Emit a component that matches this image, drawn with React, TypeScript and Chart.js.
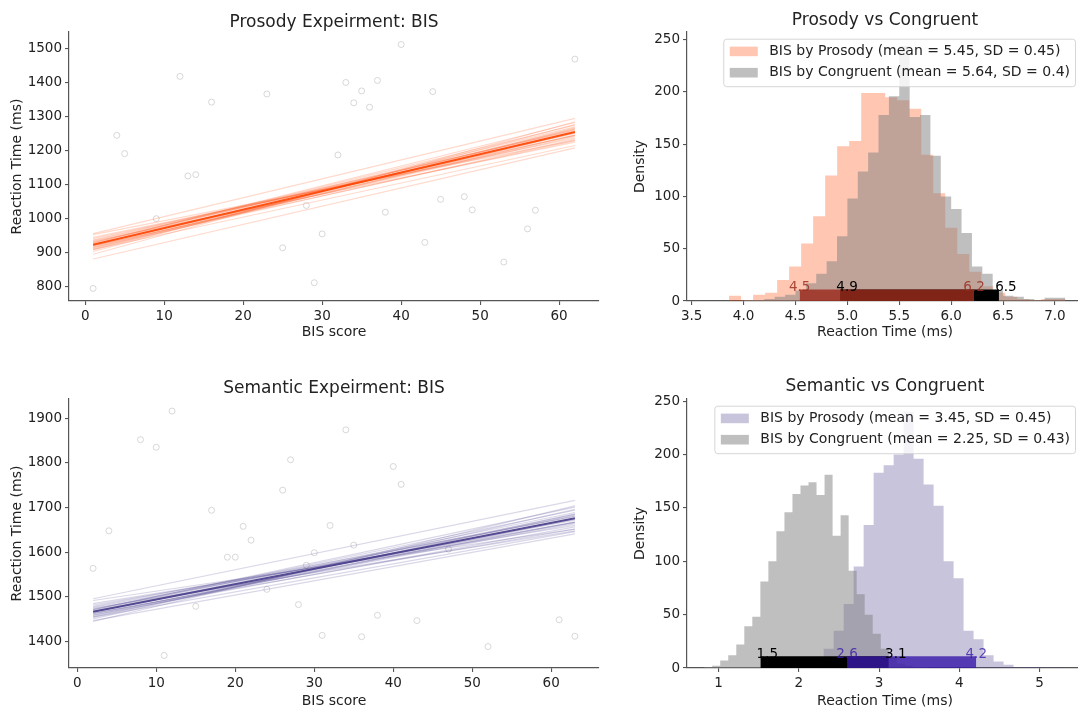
import React, { useEffect, useRef } from "react";
import { Chart, registerables } from "chart.js";

Chart.register(...registerables);

const FONT = "'DejaVu Sans', 'Liberation Sans', sans-serif";
const TEXT = "#222222";
const AXIS = "#555555";

// ---------------- Prosody experiment: BIS score vs reaction time ----------------
const PROS_BIS = [1, 4, 5, 9, 12, 13, 14, 16, 23, 25, 28, 29, 30, 32, 33, 34, 35, 36, 37, 38, 40, 43, 44, 45, 48, 49, 53, 56, 57, 62];
const PROS_RT = [793, 1245, 1191, 999, 1419, 1125, 1129, 1343, 1367, 913, 1038, 810, 954, 1187, 1401, 1341, 1376, 1328, 1407, 1018, 1513, 929, 1374, 1056, 1064, 1025, 871, 969, 1024, 1470];
const PROS_FIT_X = [1, 62];
const PROS_FIT_MEAN = [922, 1255];
const PROS_DRAW_START = [922, 930, 916, 934, 912, 925, 918, 940, 907, 922, 922, 928, 914, 936, 910, 944, 902, 952, 894, 932, 908, 880, 955, 927, 919];
const PROS_DRAW_END = [1255, 1261, 1246, 1251, 1263, 1270, 1241, 1245, 1267, 1265, 1245, 1275, 1233, 1259, 1253, 1237, 1277, 1230, 1285, 1225, 1215, 1208, 1295, 1283, 1229];
const PROS_X_TICKS = [0, 10, 20, 30, 40, 50, 60];
const PROS_Y_TICKS = [800, 900, 1000, 1100, 1200, 1300, 1400, 1500];

// ---------------- Semantic experiment: BIS score vs reaction time ----------------
const SEM_BIS = [2, 4, 8, 10, 11, 12, 15, 17, 19, 20, 21, 22, 24, 26, 27, 28, 29, 30, 31, 32, 34, 35, 36, 38, 40, 41, 43, 47, 52, 61, 63];
const SEM_RT = [1564, 1648, 1852, 1835, 1369, 1916, 1479, 1694, 1589, 1589, 1658, 1627, 1517, 1739, 1807, 1483, 1571, 1599, 1414, 1660, 1874, 1616, 1411, 1459, 1792, 1752, 1447, 1607, 1389, 1449, 1412];
const SEM_FIT_X = [2, 63];
const SEM_FIT_MEAN = [1467, 1676];
const SEM_DRAW_START = [1467, 1473, 1462, 1477, 1459, 1470, 1463, 1482, 1455, 1467, 1467, 1472, 1460, 1479, 1457, 1485, 1451, 1492, 1445, 1475, 1455, 1447, 1496, 1471, 1464];
const SEM_DRAW_END = [1676, 1681, 1668, 1672, 1683, 1689, 1664, 1667, 1686, 1685, 1667, 1694, 1657, 1680, 1674, 1660, 1696, 1652, 1704, 1648, 1646, 1641, 1716, 1701, 1652];
const SEM_X_TICKS = [0, 10, 20, 30, 40, 50, 60];
const SEM_Y_TICKS = [1400, 1500, 1600, 1700, 1800, 1900];

// ---------------- Prosody vs Congruent (histograms) ----------------
const PVC_PROS_START = 3.629;
const PVC_PROS_WIDTH = 0.1157;
const PVC_PROS_COUNTS = [1, 0, 0, 5, 1, 6, 8, 20, 33, 55, 81, 120, 148, 153, 199, 199, 195, 192, 184, 140, 103, 70, 45, 28, 14, 8, 4, 2, 1, 2];
const PVC_CONG_START = 4.0;
const PVC_CONG_WIDTH = 0.1;
const PVC_CONG_COUNTS = [0, 1, 1, 2, 4, 6, 10, 17, 26, 38, 62, 98, 124, 142, 178, 196, 244, 176, 178, 139, 100, 88, 65, 33, 26, 10, 5, 4, 2, 1, 3];
const PVC_PROS_HDI = [4.54, 6.22];
const PVC_CONG_HDI = [4.93, 6.46];
const PVC_LEGEND = ["BIS by Prosody (mean = 5.45, SD = 0.45)", "BIS by Congruent (mean = 5.64, SD = 0.4)"];
const PVC_X_TICKS = [3.5, 4.0, 4.5, 5.0, 5.5, 6.0, 6.5, 7.0];

// ---------------- Semantic vs Congruent (histograms) ----------------
const SVC_SEM_START = 1.562;
const SVC_SEM_WIDTH = 0.1245;
const SVC_SEM_COUNTS = [0, 0, 0, 0.5, 1, 3, 8, 18, 35, 60, 95, 134, 183, 190, 200, 240, 196, 172, 152, 100, 84, 35, 27, 12, 6, 3, 1, 1, 1, 0.5];
const SVC_CONG_START = 0.82;
const SVC_CONG_WIDTH = 0.1;
const SVC_CONG_COUNTS = [0.5, 1, 2, 7, 12, 22, 39, 48, 81, 100, 128, 146, 163, 171, 174, 162, 181, 124, 143, 91, 69, 50, 32, 18, 10, 4, 2, 1];
const SVC_SEM_HDI = [2.6, 4.21];
const SVC_CONG_HDI = [1.52, 3.12];
const SVC_LEGEND = ["BIS by Prosody (mean = 3.45, SD = 0.45)", "BIS by Congruent (mean = 2.25, SD = 0.43)"];
const SVC_X_TICKS = [1, 2, 3, 4, 5];

const DENSITY_TICKS = [0, 50, 100, 150, 200, 250];

// ---------------- styles ----------------
const ORANGE = "255,69,0";
const PURPLE = "72,61,139";
const GREY_FILL = "rgba(128,128,128,0.5)";
const HDI_RED = "rgba(154,43,29,0.83)";
const HDI_PURPLE = "rgba(56,25,169,0.8)";
const HDI_BLACK = "#000000";
const HDI_BAR_H = 11;

function histPoints(start: number, width: number, counts: number[]) {
  const pts: { x: number; y: number }[] = [{ x: start, y: 0 }];
  counts.forEach((c, i) => pts.push({ x: start + i * width, y: c }));
  const end = start + counts.length * width;
  pts.push({ x: end, y: counts[counts.length - 1] });
  pts.push({ x: end, y: 0 });
  return pts;
}

function histDataset(pts: any[], color: string, order: number) {
  return {
    type: "line",
    data: pts,
    stepped: "after",
    fill: "origin",
    backgroundColor: color,
    borderColor: "rgba(0,0,0,0)",
    borderWidth: 0,
    pointRadius: 0,
    order,
  };
}

function barDataset(range: number[], color: string, order: number) {
  return {
    type: "line",
    data: [
      { x: range[0], y: HDI_BAR_H },
      { x: range[1], y: HDI_BAR_H },
    ],
    fill: "origin",
    backgroundColor: color,
    borderColor: "rgba(0,0,0,0)",
    borderWidth: 0,
    pointRadius: 0,
    order,
  };
}

function axis(opts: {
  min: number;
  max: number;
  ticks: number[];
  fmt: (v: number) => string;
  title: string;
  isX: boolean;
  size: number;
  titlePad: number;
}) {
  return {
    type: "linear",
    position: opts.isX ? "bottom" : "left",
    min: opts.min,
    max: opts.max,
    afterBuildTicks: (s: any) => {
      s.ticks = opts.ticks.map((v) => ({ value: v }));
    },
    afterFit: (s: any) => {
      if (opts.isX) s.height = opts.size;
      else s.width = opts.size;
    },
    grid: {
      display: true,
      drawOnChartArea: false,
      drawTicks: true,
      tickLength: 4,
      color: AXIS,
      tickColor: AXIS,
      lineWidth: 1.1,
      tickWidth: 1.1,
    },
    border: { display: true, color: AXIS, width: 1.2 },
    ticks: {
      color: TEXT,
      font: { family: FONT, size: 13.5 },
      padding: 3,
      autoSkip: false,
      maxRotation: 0,
      callback: (v: any) => opts.fmt(Number(v)),
    },
    title: {
      display: true,
      text: opts.title,
      color: TEXT,
      font: { family: FONT, size: 14 },
      padding: opts.isX ? { top: 0, bottom: opts.titlePad } : { top: opts.titlePad, bottom: 0 },
    },
  };
}

function titlePlugin(text: string, baseline: number) {
  return {
    id: "panelTitle",
    afterDraw(chart: any) {
      const { ctx, chartArea } = chart;
      ctx.save();
      ctx.font = `17px ${FONT}`;
      ctx.fillStyle = TEXT;
      ctx.textAlign = "center";
      ctx.textBaseline = "alphabetic";
      ctx.fillText(text, (chartArea.left + chartArea.right) / 2, baseline);
      ctx.restore();
    },
  };
}

function legendPlugin(items: { label: string; color: string }[]) {
  return {
    id: "histLegend",
    afterDatasetsDraw(chart: any) {
      const { ctx, chartArea } = chart;
      ctx.save();
      ctx.font = `14px ${FONT}`;
      const textW = Math.max(...items.map((it) => ctx.measureText(it.label).width));
      const right = chartArea.right - 7.5;
      const width = 6 + 28 + 11.5 + textW + 5.5;
      const left = right - width;
      const top = chartArea.top + 7.2;
      const height = 47.5;
      const r = 3;
      ctx.beginPath();
      ctx.moveTo(left + r, top);
      ctx.lineTo(right - r, top);
      ctx.quadraticCurveTo(right, top, right, top + r);
      ctx.lineTo(right, top + height - r);
      ctx.quadraticCurveTo(right, top + height, right - r, top + height);
      ctx.lineTo(left + r, top + height);
      ctx.quadraticCurveTo(left, top + height, left, top + height - r);
      ctx.lineTo(left, top + r);
      ctx.quadraticCurveTo(left, top, left + r, top);
      ctx.closePath();
      ctx.fillStyle = "rgba(255,255,255,0.8)";
      ctx.fill();
      ctx.strokeStyle = "rgba(204,204,204,0.8)";
      ctx.lineWidth = 1;
      ctx.stroke();
      items.forEach((it, i) => {
        const cy = top + 12.2 + i * 21.3;
        ctx.fillStyle = it.color;
        ctx.fillRect(left + 6, cy - 4.8, 28, 9.6);
        ctx.fillStyle = TEXT;
        ctx.textBaseline = "middle";
        ctx.textAlign = "left";
        ctx.fillText(it.label, left + 6 + 28 + 11.5, cy);
      });
      ctx.restore();
    },
  };
}

function hdiLabelPlugin(labels: { value: number; color: string; dx: number }[]) {
  return {
    id: "hdiLabels",
    afterDatasetsDraw(chart: any) {
      const { ctx } = chart;
      const xs = chart.scales.x;
      const ys = chart.scales.y;
      ctx.save();
      ctx.font = `13.5px ${FONT}`;
      ctx.textAlign = "center";
      ctx.textBaseline = "alphabetic";
      labels.forEach((l) => {
        ctx.fillStyle = l.color;
        ctx.fillText(l.value.toFixed(1), xs.getPixelForValue(l.value) + l.dx, ys.getPixelForValue(0) - 10);
      });
      ctx.restore();
    },
  };
}

function regressionConfig(p: {
  bis: number[];
  rt: number[];
  fitX: number[];
  mean: number[];
  starts: number[];
  ends: number[];
  rgb: string;
  xMin: number;
  xMax: number;
  yMin: number;
  yMax: number;
  xTicks: number[];
  yTicks: number[];
  title: string;
  titleBaseline: number;
  padTop: number;
  xAxisH: number;
}) {
  const datasets: any[] = [];
  datasets.push({
    type: "line",
    data: p.bis.map((x, i) => ({ x, y: p.rt[i] })),
    showLine: false,
    pointRadius: 3,
    pointBorderWidth: 1,
    pointBorderColor: "rgba(190,190,190,0.6)",
    pointBackgroundColor: "rgba(0,0,0,0)",
    order: 100,
  });
  p.starts.forEach((s, i) => {
    datasets.push({
      type: "line",
      data: [
        { x: p.fitX[0], y: s },
        { x: p.fitX[1], y: p.ends[i] },
      ],
      borderColor: `rgba(${p.rgb},0.2)`,
      borderWidth: 1.2,
      pointRadius: 0,
      fill: false,
      order: 50,
    });
  });
  datasets.push({
    type: "line",
    data: [
      { x: p.fitX[0], y: p.mean[0] },
      { x: p.fitX[1], y: p.mean[1] },
    ],
    borderColor: `rgba(${p.rgb},0.9)`,
    borderWidth: 2,
    pointRadius: 0,
    fill: false,
    order: 0,
  });
  return {
    type: "line",
    data: { datasets },
    options: {
      responsive: false,
      animation: false,
      devicePixelRatio: 1,
      layout: { padding: { top: p.padTop, right: 3, left: 0, bottom: 0 } },
      plugins: { legend: { display: false }, tooltip: { enabled: false } },
      scales: {
        x: axis({ min: p.xMin, max: p.xMax, ticks: p.xTicks, fmt: (v) => String(v), title: "BIS score", isX: true, size: p.xAxisH, titlePad: 0 }),
        y: axis({ min: p.yMin, max: p.yMax, ticks: p.yTicks, fmt: (v) => String(v), title: "Reaction Time (ms)", isX: false, size: 69, titlePad: 8.6 }),
      },
    },
    plugins: [titlePlugin(p.title, p.titleBaseline)],
  };
}

function histConfig(p: {
  mainPts: any[];
  congPts: any[];
  mainFill: string;
  mainHdi: number[];
  congHdi: number[];
  mainHdiColor: string;
  xMin: number;
  xMax: number;
  yMax: number;
  xTicks: number[];
  xFmt: (v: number) => string;
  legend: string[];
  title: string;
  titleBaseline: number;
  padTop: number;
  xAxisH: number;
}) {
  const datasets: any[] = [
    histDataset(p.mainPts, p.mainFill, 40),
    histDataset(p.congPts, GREY_FILL, 30),
    barDataset(p.congHdi, HDI_BLACK, 20),
    barDataset(p.mainHdi, p.mainHdiColor, 10),
  ];
  return {
    type: "line",
    data: { datasets },
    options: {
      responsive: false,
      animation: false,
      devicePixelRatio: 1,
      layout: { padding: { top: p.padTop, right: 3, left: 0, bottom: 0 } },
      plugins: { legend: { display: false }, tooltip: { enabled: false } },
      scales: {
        x: axis({ min: p.xMin, max: p.xMax, ticks: p.xTicks, fmt: p.xFmt, title: "Reaction Time (ms)", isX: true, size: p.xAxisH, titlePad: 0 }),
        y: axis({ min: 0, max: p.yMax, ticks: DENSITY_TICKS, fmt: (v) => String(v), title: "Density", isX: false, size: 77, titlePad: 22.4 }),
      },
    },
    plugins: [
      titlePlugin(p.title, p.titleBaseline),
      legendPlugin([
        { label: p.legend[0], color: p.mainFill },
        { label: p.legend[1], color: GREY_FILL },
      ]),
      hdiLabelPlugin([
        { value: p.mainHdi[0], color: p.mainHdiColor, dx: 0 },
        { value: p.mainHdi[1], color: p.mainHdiColor, dx: 0 },
        { value: p.congHdi[0], color: HDI_BLACK, dx: 7 },
        { value: p.congHdi[1], color: HDI_BLACK, dx: 7 },
      ]),
    ],
  };
}

const PANELS = [
  {
    left: 0,
    top: 0,
    width: 604,
    height: 341,
    make: () =>
      regressionConfig({
        bis: PROS_BIS,
        rt: PROS_RT,
        fitX: PROS_FIT_X,
        mean: PROS_FIT_MEAN,
        starts: PROS_DRAW_START,
        ends: PROS_DRAW_END,
        rgb: ORANGE,
        xMin: -2.05,
        xMax: 65.05,
        yMin: 756,
        yMax: 1550,
        xTicks: PROS_X_TICKS,
        yTicks: PROS_Y_TICKS,
        title: "Prosody Expeirment: BIS",
        titleBaseline: 27,
        padTop: 32,
        xAxisH: 40,
      }),
  },
  {
    left: 610,
    top: 0,
    width: 476,
    height: 341,
    make: () =>
      histConfig({
        mainPts: histPoints(PVC_PROS_START, PVC_PROS_WIDTH, PVC_PROS_COUNTS),
        congPts: histPoints(PVC_CONG_START, PVC_CONG_WIDTH, PVC_CONG_COUNTS),
        mainFill: `rgba(${ORANGE},0.3)`,
        mainHdi: PVC_PROS_HDI,
        congHdi: PVC_CONG_HDI,
        mainHdiColor: HDI_RED,
        xMin: 3.455,
        xMax: 7.27,
        yMax: 257.4,
        xTicks: PVC_X_TICKS,
        xFmt: (v) => v.toFixed(1),
        legend: PVC_LEGEND,
        title: "Prosody vs Congruent",
        titleBaseline: 24.5,
        padTop: 32,
        xAxisH: 40,
      }),
  },
  {
    left: 0,
    top: 360,
    width: 604,
    height: 350,
    make: () =>
      regressionConfig({
        bis: SEM_BIS,
        rt: SEM_RT,
        fitX: SEM_FIT_X,
        mean: SEM_FIT_MEAN,
        starts: SEM_DRAW_START,
        ends: SEM_DRAW_END,
        rgb: PURPLE,
        xMin: -1.05,
        xMax: 66.05,
        yMin: 1341,
        yMax: 1943,
        xTicks: SEM_X_TICKS,
        yTicks: SEM_Y_TICKS,
        title: "Semantic Expeirment: BIS",
        titleBaseline: 33,
        padTop: 39,
        xAxisH: 42,
      }),
  },
  {
    left: 610,
    top: 360,
    width: 476,
    height: 350,
    make: () =>
      histConfig({
        mainPts: histPoints(SVC_SEM_START, SVC_SEM_WIDTH, SVC_SEM_COUNTS),
        congPts: histPoints(SVC_CONG_START, SVC_CONG_WIDTH, SVC_CONG_COUNTS),
        mainFill: `rgba(${PURPLE},0.3)`,
        mainHdi: SVC_SEM_HDI,
        congHdi: SVC_CONG_HDI,
        mainHdiColor: HDI_PURPLE,
        xMin: 0.606,
        xMax: 5.54,
        yMax: 252,
        xTicks: SVC_X_TICKS,
        xFmt: (v) => String(v),
        legend: SVC_LEGEND,
        title: "Semantic vs Congruent",
        titleBaseline: 30.7,
        padTop: 39,
        xAxisH: 42,
      }),
  },
];

function Panel({ spec }: { spec: (typeof PANELS)[number] }) {
  const ref = useRef<HTMLCanvasElement>(null);
  useEffect(() => {
    const chart = new Chart(ref.current as HTMLCanvasElement, spec.make() as any);
    return () => chart.destroy();
  }, []);
  return (
    <div style={{ position: "absolute", left: spec.left, top: spec.top, width: spec.width, height: spec.height }}>
      <canvas ref={ref} width={spec.width} height={spec.height} style={{ display: "block" }} />
    </div>
  );
}

export default function App() {
  Chart.defaults.font.family = FONT;
  Chart.defaults.color = TEXT;
  return (
    <div
      style={{
        position: "fixed",
        left: 0,
        top: 0,
        width: 1078,
        height: 713,
        overflow: "hidden",
        background: "#ffffff",
      }}
    >
      {PANELS.map((p, i) => (
        <Panel key={i} spec={p} />
      ))}
    </div>
  );
}
